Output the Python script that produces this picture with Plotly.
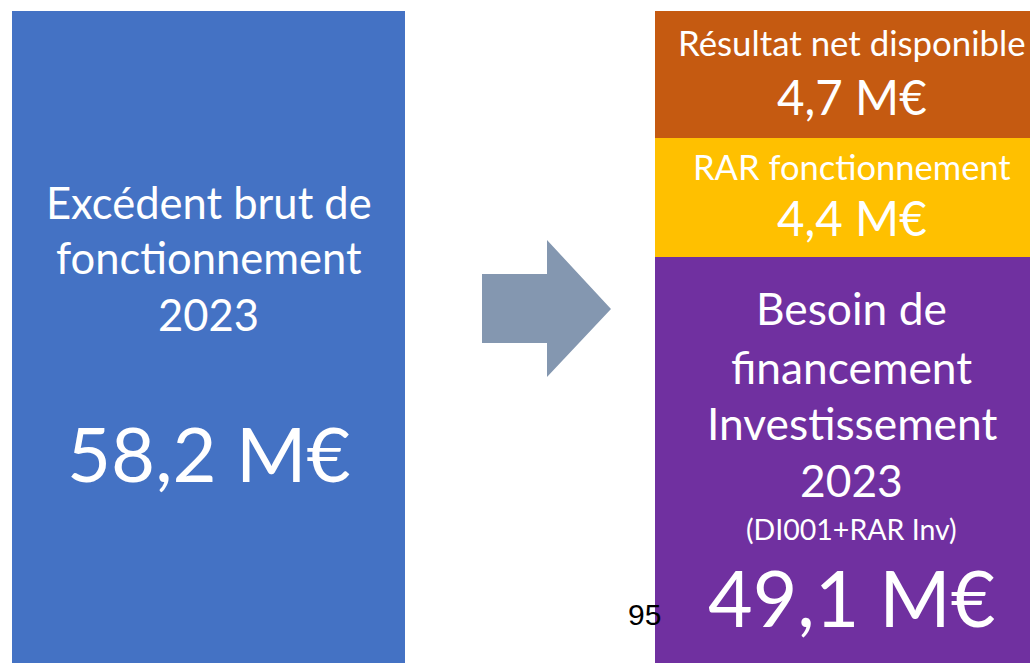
import plotly.graph_objects as go

# ---- data ----
left_label_lines = ["Excédent brut de", "fonctionnement", "2023"]
left_value = 58.2  # M€

right_names = ["Besoin de financement Investissement 2023", "RAR fonctionnement", "Résultat net disponible"]
right_values = [49.1, 4.4, 4.7]  # M€ (displayed)
# heights of the stacked boxes as drawn in the picture (same unit as the left bar)
right_box_heights = [36.24, 10.62, 11.34]
right_colors = ["#7030A0", "#FFC000", "#C55A11"]
left_color = "#4472C4"
arrow_color = "#8497B0"
page_number = "95"

W, H = 1030, 663
FONT = "Lato, 'Open Sans', sans-serif"


def fmt(v):
    return f"{v:.1f}".replace(".", ",") + " M€"


fig = go.Figure()
fig.add_trace(go.Bar(x=[0], y=[left_value], marker=dict(color=left_color, line=dict(width=0)),
                     width=0.6112, hoverinfo="skip", showlegend=False))
for name, h, c in zip(right_names, right_box_heights, right_colors):
    fig.add_trace(go.Bar(x=[1], y=[h], name=name, marker=dict(color=c, line=dict(width=0)),
                         width=0.6112, hoverinfo="skip", showlegend=False))

ymax = left_value * 663 / 652


def ypx(py):
    return 1 - py / H


def ann(text, xc, py, size, color="white", family=FONT):
    fig.add_annotation(x=xc, y=ypx(py), xref="x", yref="paper", text=text, showarrow=False,
                       font=dict(family=family, size=size, color=color),
                       xanchor="center", yanchor="middle")


# left block
for line, py in zip(left_label_lines, [201.5, 257.5, 313.5]):
    ann(line, 0, py, 43.5)
ann(fmt(left_value), 0, 452, 76)

# right blocks
ann(right_names[2], 1, 43, 34.8)
ann(fmt(right_values[2]), 1, 96, 47.5)
ann(right_names[1], 1, 166, 34.5)
ann(fmt(right_values[1]), 1, 217.5, 47.5)
for line, py in zip(["Besoin de", "financement", "Investissement", "2023"], [307, 366, 422, 479]):
    ann(line, 1, py, 44.3)
ann("(DI001+RAR Inv)", 1, 529, 28.5)
ann(fmt(right_values[0]), 1, 597, 77)

# page number
fig.add_annotation(x=644 / W, y=ypx(614), xref="paper", yref="paper", text=page_number, showarrow=False,
                   font=dict(family="Liberation Sans, Arial", size=30, color="black"),
                   xanchor="center", yanchor="middle")

# arrow
pts = [(482, 274), (547, 274), (547, 240), (611, 309), (547, 377), (547, 343), (482, 343)]
path = "M " + " L ".join(f"{x / W:.5f},{1 - y / H:.5f}" for x, y in pts) + " Z"
fig.add_shape(type="path", path=path, xref="paper", yref="paper",
              fillcolor=arrow_color, line=dict(width=0))

fig.update_layout(
    width=W, height=H, margin=dict(l=0, r=0, t=0, b=0),
    barmode="stack", bargap=0,
    plot_bgcolor="white", paper_bgcolor="white",
    xaxis=dict(range=[-0.3243, 1.2776], visible=False, fixedrange=True),
    yaxis=dict(range=[0, ymax], visible=False, fixedrange=True),
)

fig.write_html("out.html", config={"displayModeBar": False},
               post_script="document.body.style.margin='0';document.body.style.overflow='hidden';")
